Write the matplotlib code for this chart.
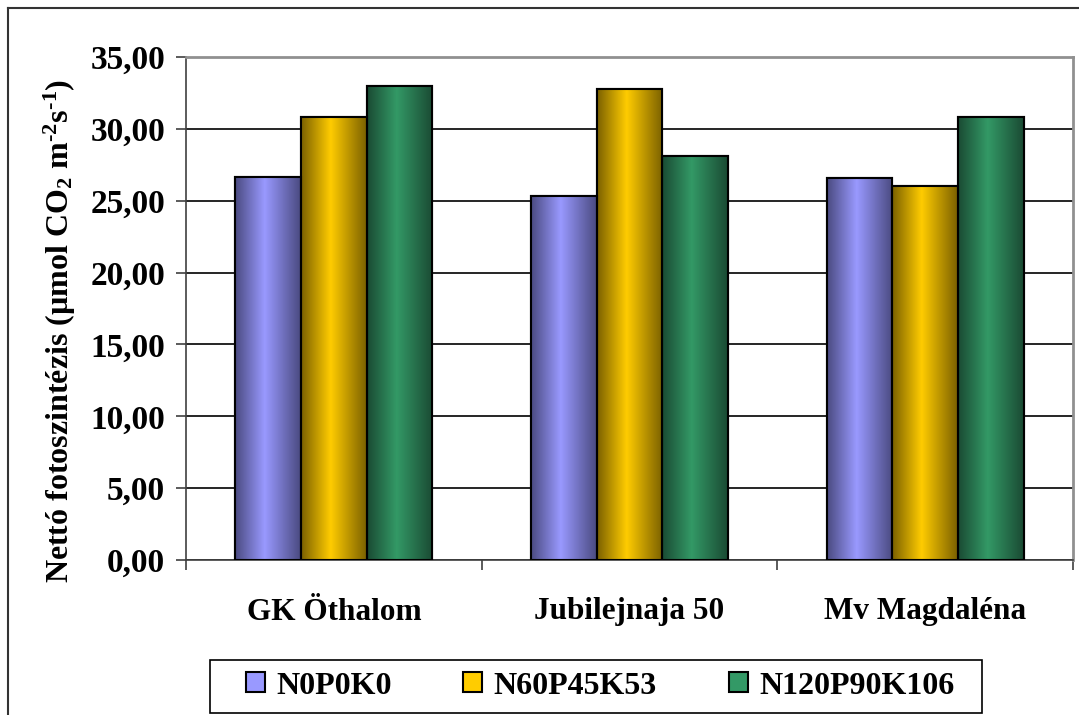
import numpy as np
import matplotlib
matplotlib.use("Agg")
import matplotlib.pyplot as plt
from matplotlib.lines import Line2D
from matplotlib.patches import Rectangle
from matplotlib.colors import LinearSegmentedColormap
from matplotlib.ticker import FuncFormatter, FixedLocator

plt.rcParams['font.family'] = ['Liberation Serif', 'DejaVu Serif']
plt.rcParams['font.weight'] = 'bold'
plt.rcParams['mathtext.fontset'] = 'custom'
plt.rcParams['mathtext.rm'] = 'Liberation Serif:bold'
plt.rcParams['mathtext.it'] = 'Liberation Serif:bold'
plt.rcParams['mathtext.bf'] = 'Liberation Serif:bold'

categories = ['GK Öthalom', 'Jubilejnaja 50', 'Mv Magdaléna']
series_names = ['N0P0K0', 'N60P45K53', 'N120P90K106']
n0p0k0 = [26.65, 25.3, 26.55]
n60p45k53 = [30.85, 32.8, 26.0]
n120p90k106 = [32.95, 28.1, 30.85]
series_values = [n0p0k0, n60p45k53, n120p90k106]
base_colors = ['#9999FF', '#FFCC00', '#339966']
dark_colors = ['#4A4A80', '#7A6000', '#1A4A33']

fig = plt.figure(figsize=(10.79, 7.15), dpi=100)
ax = fig.add_axes([186 / 1079, 1 - 560 / 715, (1073 - 186) / 1079, (560 - 57) / 715])

x = np.arange(len(categories))
width = 1 / 4.5
gx = np.linspace(0, 1, 256)
for i, vals in enumerate(series_values):
    cmap = LinearSegmentedColormap.from_list(
        'g%d' % i, [(0, dark_colors[i]), (0.45, base_colors[i]), (1, dark_colors[i])])
    bars = ax.bar(x + (i - 1) * width, vals, width, color=base_colors[i],
                  edgecolor='black', linewidth=1.5, zorder=3, label=series_names[i])
    for b in bars:
        im = ax.imshow(gx[np.newaxis, :], cmap=cmap, aspect='auto', zorder=3.5,
                       extent=[b.get_x(), b.get_x() + b.get_width(), 0, b.get_height()])
        im.set_clip_path(b)
        ax.add_patch(Rectangle((b.get_x(), 0), b.get_width(), b.get_height(),
                               fill=False, edgecolor='black', linewidth=1.5, zorder=4))

ax.set_xlim(-0.5, len(categories) - 0.5)
ax.set_ylim(0, 35)
ax.set_yticks(np.arange(0, 36, 5))
ax.yaxis.set_major_formatter(FuncFormatter(lambda v, p: ('%.2f' % v).replace('.', ',')))
ax.grid(axis='y', color='black', linewidth=1.2, zorder=1)
ax.set_axisbelow(True)

ax.xaxis.set_major_locator(FixedLocator(x))
ax.set_xticklabels(categories, fontsize=22.5, fontweight='bold')
ax.xaxis.set_minor_locator(FixedLocator(np.arange(-0.5, len(categories), 1)))
ax.tick_params(axis='x', which='major', length=0, pad=27)
ax.tick_params(axis='x', which='minor', length=7, width=1.2, color='#404040', direction='out')
ax.tick_params(axis='y', length=7, width=1.2, color='#404040', labelsize=24, pad=8)
for lab in ax.get_yticklabels():
    lab.set_fontweight('bold')

for s in ['top', 'right']:
    ax.spines[s].set_color('#909090')
    ax.spines[s].set_linewidth(2)
for s in ['left', 'bottom']:
    ax.spines[s].set_color('#404040')
    ax.spines[s].set_linewidth(1.2)

ax.set_ylabel(r'Nettó fotoszintézis (µmol CO$_2$ m$^{\text{-}2}$s$^{\text{-}1}$)', fontsize=23,
              fontweight='bold')
ax.yaxis.set_label_coords(-0.122, 0.455)

leg = fig.legend(loc='center', bbox_to_anchor=(600 / 1079, 1 - 686 / 715), ncol=3,
                 prop={'size': 23, 'weight': 'bold'}, frameon=False,
                 handlelength=0.6, handleheight=0.6, columnspacing=2.25, handletextpad=0.35)
fig.add_artist(Rectangle((210 / 1079, 1 - 713 / 715), (982 - 210) / 1079, 53 / 715,
                         transform=fig.transFigure, fill=False, edgecolor='black',
                         linewidth=1.2))

fig.add_artist(Line2D([8 / 1079, 8 / 1079], [0, 1 - 8 / 715], color='#333333', linewidth=1.5))
fig.add_artist(Line2D([8 / 1079, 1], [1 - 8 / 715, 1 - 8 / 715], color='#333333', linewidth=1.5))

fig.savefig('out.png', dpi=100)
